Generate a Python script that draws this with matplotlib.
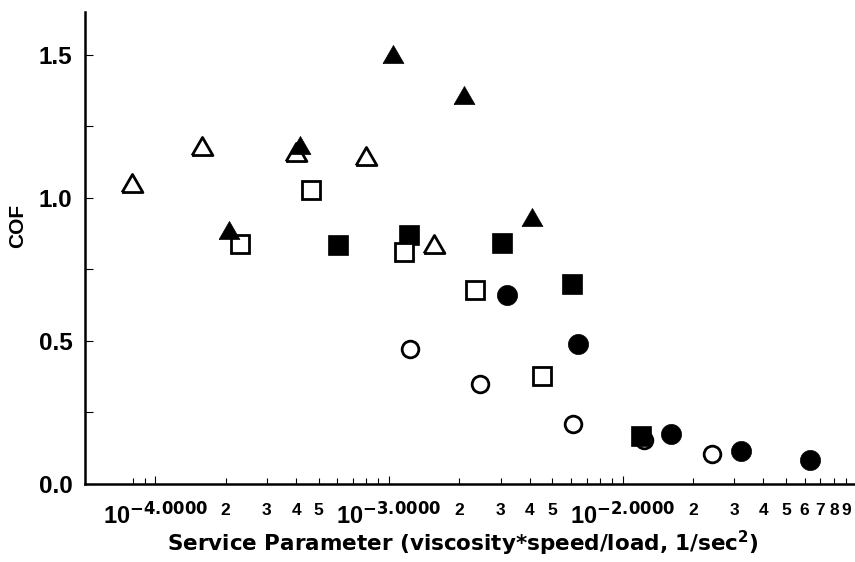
import matplotlib
matplotlib.use('Agg')
import matplotlib.pyplot as plt
from matplotlib.ticker import FixedLocator, FixedFormatter

plt.rcParams['font.family'] = ['Liberation Sans', 'DejaVu Sans']
plt.rcParams['font.weight'] = 'bold'
plt.rcParams['mathtext.fontset'] = 'custom'
plt.rcParams['mathtext.rm'] = 'Liberation Sans:bold'
plt.rcParams['mathtext.bf'] = 'Liberation Sans:bold'
plt.rcParams['mathtext.it'] = 'Liberation Sans:bold'
plt.rcParams['mathtext.sf'] = 'DejaVu Sans:bold'
plt.rcParams['mathtext.default'] = 'bf'

# ---- data ----
open_tri_x = [7.95e-5, 1.59e-4, 4.0e-4, 7.99e-4, 1.555e-3]
open_tri_y = [1.052, 1.183, 1.16, 1.145, 0.84]

filled_tri_x = [2.075e-4, 4.14e-4, 1.038e-3, 2.085e-3, 4.09e-3]
filled_tri_y = [0.889, 1.184, 1.504, 1.359, 0.934]

open_sq_x = [2.31e-4, 4.64e-4, 1.157e-3, 2.324e-3, 4.53e-3]
open_sq_y = [0.839, 1.029, 0.81, 0.678, 0.379]

filled_sq_x = [6.06e-4, 1.212e-3, 3.03e-3, 6.07e-3, 1.191e-2]
filled_sq_y = [0.835, 0.87, 0.843, 0.698, 0.168]

open_circ_x = [1.224e-3, 2.458e-3, 6.13e-3, 1.23e-2, 2.41e-2]
open_circ_y = [0.473, 0.349, 0.21, 0.155, 0.106]

filled_circ_x = [3.21e-3, 6.44e-3, 1.606e-2, 3.22e-2, 6.32e-2]
filled_circ_y = [0.661, 0.489, 0.175, 0.116, 0.084]

major_x_ticks = [1e-4, 1e-3, 1e-2]
major_x_labels = [r'$\mathbf{10}^{\mathsf{-4.0000}}$',
                  r'$\mathbf{10}^{\mathsf{-3.0000}}$',
                  r'$\mathbf{10}^{\mathsf{-2.0000}}$']
minor_x_ticks = [8e-5, 9e-5,
                 2e-4, 3e-4, 4e-4, 5e-4, 6e-4, 7e-4, 8e-4, 9e-4,
                 2e-3, 3e-3, 4e-3, 5e-3, 6e-3, 7e-3, 8e-3, 9e-3,
                 2e-2, 3e-2, 4e-2, 5e-2, 6e-2, 7e-2, 8e-2, 9e-2]
minor_x_labels = ['', '',
                  '2', '3', '4', '5', '', '', '', '',
                  '2', '3', '4', '5', '', '', '', '',
                  '2', '3', '4', '5', '6', '7', '8', '9']
y_ticks = [0.0, 0.25, 0.5, 0.75, 1.0, 1.25, 1.5]
y_labels = ['0.0', '', '0.5', '', '1.0', '', '1.5']

# ---- figure ----
fig = plt.figure(figsize=(8.55, 5.62), dpi=100)
ax = fig.add_axes([85 / 855, 78 / 562, 771.5 / 855, 472 / 562])
ax.set_xscale('log')
ax.set_xlim(5e-5, 0.1)
ax.set_ylim(0, 1.65)

tri = [(-1, -0.866), (1, -0.866), (0, 0.866), (-1, -0.866)]

ax.plot(open_circ_x, open_circ_y, linestyle='none', marker='o', ms=12,
        mfc='white', mec='black', mew=2.0, zorder=3)
ax.plot(filled_sq_x, filled_sq_y, linestyle='none', marker='s', ms=14.5,
        mfc='black', mec='black', mew=0.5, zorder=4)
ax.plot(open_sq_x, open_sq_y, linestyle='none', marker='s', ms=13,
        mfc='white', mec='black', mew=2.0, zorder=5)
ax.plot(open_tri_x, open_tri_y, linestyle='none', marker=tri, ms=15,
        mfc='white', mec='black', mew=2.0, zorder=6)
ax.plot(filled_tri_x, filled_tri_y, linestyle='none', marker=tri, ms=15,
        mfc='black', mec='black', mew=0.5, zorder=7)
ax.plot(filled_circ_x, filled_circ_y, linestyle='none', marker='o', ms=14.5,
        mfc='black', mec='black', mew=0.5, zorder=8)

for s in ['top', 'right']:
    ax.spines[s].set_visible(False)
for s in ['left', 'bottom']:
    ax.spines[s].set_linewidth(1.8)

ax.xaxis.set_major_locator(FixedLocator(major_x_ticks))
ax.xaxis.set_major_formatter(FixedFormatter(major_x_labels))
ax.xaxis.set_minor_locator(FixedLocator(minor_x_ticks))
ax.xaxis.set_minor_formatter(FixedFormatter(minor_x_labels))
ax.tick_params(axis='x', which='major', direction='in', length=6, width=0.8,
               pad=13, labelsize=17)
ax.tick_params(axis='x', which='minor', direction='in', length=4, width=0.8,
               pad=14, labelsize=12.5)

ax.yaxis.set_major_locator(FixedLocator(y_ticks))
ax.yaxis.set_major_formatter(FixedFormatter(y_labels))
ax.tick_params(axis='y', which='major', direction='in', length=6, width=0.8,
               pad=9, labelsize=17.5)
ax.yaxis.set_minor_locator(FixedLocator([]))

for lbl in ax.get_xticklabels(which='both') + ax.get_yticklabels():
    lbl.set_fontweight('bold')

ax.set_ylabel('COF', fontsize=15, fontweight='bold')
ax.yaxis.set_label_coords(-0.075, 0.547)
ax.set_xlabel(r'Service Parameter (viscosity*speed/load, 1/sec$^{\mathsf{2}}$)',
              fontsize=15.5, fontweight='bold', family=['DejaVu Sans'])
ax.xaxis.set_label_coords(0.49, -0.095)

fig.savefig('out.png', dpi=100)
